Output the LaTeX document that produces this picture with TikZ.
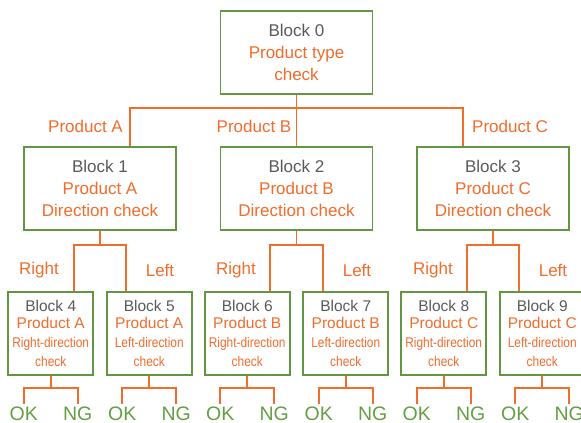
\documentclass[tikz,border=0pt]{standalone}
\usepackage{fontspec}
\setmainfont{Liberation Sans}
\usetikzlibrary{calc}
\usepackage{graphicx}

\definecolor{wireorange}{RGB}{242,108,44}
\definecolor{boxgreen}{RGB}{98,150,66}
\definecolor{okgreen}{RGB}{100,158,68}
\definecolor{idgray}{RGB}{90,90,90}

\tikzset{
  wire/.style={draw=wireorange, line width=1.8pt},
  bigblock/.style={draw=boxgreen, line width=1.8pt, fill=white, text=wireorange,
    minimum width=152pt, minimum height=83pt, inner sep=0pt, align=center,
    font=\fontsize{17}{22}\selectfont},
  smallblock/.style={draw=boxgreen, line width=1.8pt, fill=white, text=wireorange,
    minimum width=85pt, minimum height=83pt, inner sep=0pt, align=center,
    font=\fontsize{15.5}{17}\selectfont},
  branch/.style={text=wireorange, font=\fontsize{17}{20}\selectfont},
  verdict/.style={text=okgreen, anchor=north, inner xsep=0pt, inner ysep=2.5pt,
    font=\fontsize{19.5}{24}\selectfont},
}
\newcommand{\blockid}[1]{\textcolor{idgray}{Block #1}}
\newcommand{\dirtext}[1]{\fontsize{14}{17}\selectfont\scalebox{0.85}[1]{#1}}

\begin{document}
\begin{tikzpicture}[x=1pt, y=1pt]
	\useasboundingbox (0,0) rectangle (581,-423);

	% 第一层：产品类型判断
	\node[bigblock] (b0) at (296.5,-52.5) {\blockid{0}\\Product type\\check};

	% 第二层：方向判断
	\node[bigblock] (b1) at (100,-188.5) {\blockid{1}\\Product A\\Direction check};
	\node[bigblock] (b2) at (296.5,-188.5) {\blockid{2}\\Product B\\Direction check};
	\node[bigblock] (b3) at (493,-188.5) {\blockid{3}\\Product C\\Direction check};

	% 第三层：左右方向检查
	\node[smallblock] (b4) at (50.75,-333.5) {\blockid{4}\\Product A\\[2pt]\dirtext{Right-direction}\\[2pt]\dirtext{check}};
	\node[smallblock] (b5) at (149.25,-333.5) {\blockid{5}\\Product A\\[2pt]\dirtext{Left-direction}\\[2pt]\dirtext{check}};
	\node[smallblock] (b6) at (247.25,-333.5) {\blockid{6}\\Product B\\[2pt]\dirtext{Right-direction}\\[2pt]\dirtext{check}};
	\node[smallblock] (b7) at (345.75,-333.5) {\blockid{7}\\Product B\\[2pt]\dirtext{Left-direction}\\[2pt]\dirtext{check}};
	\node[smallblock] (b8) at (443.75,-333.5) {\blockid{8}\\Product C\\[2pt]\dirtext{Right-direction}\\[2pt]\dirtext{check}};
	\node[smallblock] (b9) at (542.25,-333.5) {\blockid{9}\\Product C\\[2pt]\dirtext{Left-direction}\\[2pt]\dirtext{check}};

	% 分支标签
	\node[branch] (pa) at (85.5,-126) {Product A};
	\node[branch] (pb) at (254,-126) {Product B};
	\node[branch] (pc) at (510,-126) {Product C};
	\node[branch] (r1) at (39,-270) {Right};
	\node[branch] (l1) at (160,-270) {Left};
	\node[branch] (r2) at (236,-270) {Right};
	\node[branch] (l2) at (357,-270) {Left};
	\node[branch] (r3) at (433,-270) {Right};
	\node[branch] (l3) at (553,-270) {Left};

	% 结果 OK / NG
	\node[verdict] (ok4) at (23.75,-404) {OK};
	\node[verdict] (ng4) at (77.75,-404) {NG};
	\node[verdict] (ok5) at (122.25,-404) {OK};
	\node[verdict] (ng5) at (176.25,-404) {NG};
	\node[verdict] (ok6) at (220.25,-404) {OK};
	\node[verdict] (ng6) at (274.25,-404) {NG};
	\node[verdict] (ok7) at (318.75,-404) {OK};
	\node[verdict] (ng7) at (372.75,-404) {NG};
	\node[verdict] (ok8) at (416.75,-404) {OK};
	\node[verdict] (ng8) at (470.75,-404) {NG};
	\node[verdict] (ok9) at (515.25,-404) {OK};
	\node[verdict] (ng9) at (569.25,-404) {NG};

	% 连线：第一层到第二层
	\draw[wire] (b0.south) -- (b2.north);
	\draw[wire] ([xshift=30pt]b1.north) -- ++(0,38) -| ([xshift=-30pt]b3.north);

	% 连线：第二层到第三层
	\draw[wire] (b1.south) -- ++(0,-15);
	\draw[wire] ([xshift=23pt]b4.north) -- ++(0,46) -| ([xshift=-23pt]b5.north);
	\draw[wire] (b2.south) -- ++(0,-15);
	\draw[wire] ([xshift=23pt]b6.north) -- ++(0,46) -| ([xshift=-23pt]b7.north);
	\draw[wire] (b3.south) -- ++(0,-15);
	\draw[wire] ([xshift=23pt]b8.north) -- ++(0,46) -| ([xshift=-23pt]b9.north);

	% 连线：第三层到结果
	\draw[wire] (b4.south) -- ++(0,-13);
	\draw[wire] (ok4.north) -- ++(0,16) -| (ng4.north);
	\draw[wire] (b5.south) -- ++(0,-13);
	\draw[wire] (ok5.north) -- ++(0,16) -| (ng5.north);
	\draw[wire] (b6.south) -- ++(0,-13);
	\draw[wire] (ok6.north) -- ++(0,16) -| (ng6.north);
	\draw[wire] (b7.south) -- ++(0,-13);
	\draw[wire] (ok7.north) -- ++(0,16) -| (ng7.north);
	\draw[wire] (b8.south) -- ++(0,-13);
	\draw[wire] (ok8.north) -- ++(0,16) -| (ng8.north);
	\draw[wire] (b9.south) -- ++(0,-13);
	\draw[wire] (ok9.north) -- ++(0,16) -| (ng9.north);
\end{tikzpicture}
\end{document}
